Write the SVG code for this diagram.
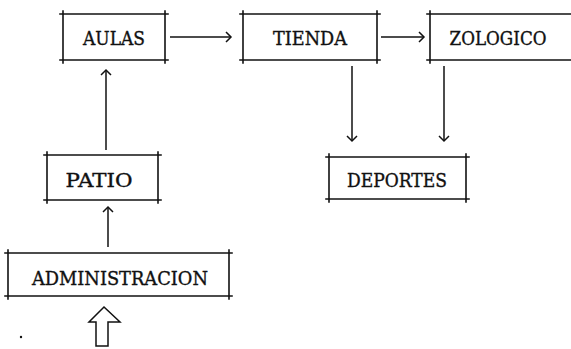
<svg xmlns="http://www.w3.org/2000/svg" width="571" height="349" viewBox="0 0 571 349">
<style>
.box line{stroke:#111;stroke-width:1.6;stroke-linecap:square}
.lbl{font-family:"DejaVu Serif","Liberation Serif",serif;font-size:18px;fill:#111;stroke:#111;stroke-width:0.35;text-anchor:middle}
.conn line,.conn path{stroke:#111;stroke-width:1.5;fill:none}
</style>
<rect width="571" height="349" fill="#fff"/>
<g id="aulas" class="box">
<line x1="60" y1="14" x2="168" y2="14"/><line x1="60" y1="60" x2="168" y2="60"/>
<line x1="63" y1="11" x2="63" y2="63"/><line x1="165" y1="11" x2="165" y2="63"/>
<text class="lbl" x="114" y="45" textLength="62" lengthAdjust="spacingAndGlyphs">AULAS</text>
</g>
<g id="tienda" class="box">
<line x1="240" y1="14" x2="380" y2="14"/><line x1="240" y1="60" x2="380" y2="60"/>
<line x1="243" y1="11" x2="243" y2="63"/><line x1="377" y1="11" x2="377" y2="63"/>
<text class="lbl" x="310" y="45" textLength="74" lengthAdjust="spacingAndGlyphs">TIENDA</text>
</g>
<g id="zologico" class="box">
<line x1="427" y1="14" x2="571" y2="14"/><line x1="427" y1="60" x2="571" y2="60"/>
<line x1="430" y1="11" x2="430" y2="63"/>
<text class="lbl" x="498" y="45" textLength="97" lengthAdjust="spacingAndGlyphs">ZOLOGICO</text>
</g>
<g id="deportes" class="box">
<line x1="326" y1="157" x2="469" y2="157"/><line x1="326" y1="199" x2="469" y2="199"/>
<line x1="329" y1="154" x2="329" y2="202"/><line x1="466" y1="154" x2="466" y2="202"/>
<text class="lbl" x="397" y="187" textLength="100" lengthAdjust="spacingAndGlyphs">DEPORTES</text>
</g>
<g id="patio" class="box">
<line x1="44" y1="155" x2="161" y2="155"/><line x1="44" y1="200" x2="161" y2="200"/>
<line x1="47" y1="152" x2="47" y2="203"/><line x1="158" y1="152" x2="158" y2="203"/>
<text class="lbl" x="99" y="187" textLength="67" lengthAdjust="spacingAndGlyphs">PATIO</text>
</g>
<g id="administracion" class="box">
<line x1="5" y1="253" x2="232" y2="253"/><line x1="5" y1="296" x2="232" y2="296"/>
<line x1="8" y1="250" x2="8" y2="299"/><line x1="229" y1="250" x2="229" y2="299"/>
<text class="lbl" x="120" y="285" textLength="176" lengthAdjust="spacingAndGlyphs">ADMINISTRACION</text>
</g>
<g id="connectors" class="conn">
<line x1="170" y1="37" x2="230" y2="37"/><path d="M226 32 L231 37 L226 42"/>
<line x1="381" y1="37" x2="423" y2="37"/><path d="M419 32 L424 37 L419 42"/>
<line x1="352" y1="66" x2="352" y2="141"/><path d="M347 136 L352 141 L357 136"/>
<line x1="444" y1="66" x2="444" y2="141"/><path d="M439 136 L444 141 L449 136"/>
<line x1="106" y1="70" x2="106" y2="150"/><path d="M101 75 L106 70 L111 75"/>
<line x1="108" y1="207" x2="108" y2="247"/><path d="M103 212 L108 207 L113 212"/>
<path d="M104 307 L120 322 L108 322 L108 346 L96 346 L96 322 L89 322 Z"/>
</g>
<circle cx="21" cy="337" r="1.2" fill="#111"/>
</svg>
